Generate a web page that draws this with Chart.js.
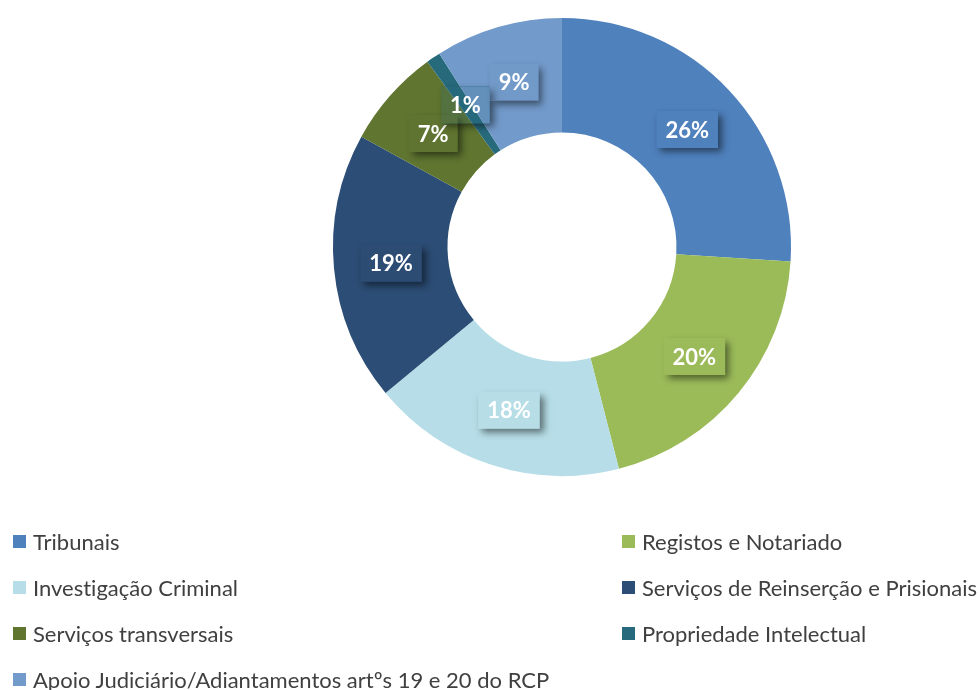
<!DOCTYPE html>
<html lang="pt">
<head>
<meta charset="utf-8">
<title>Distribuição da despesa</title>
<script src="https://cdn.jsdelivr.net/npm/chart.js@4.4.1/dist/chart.umd.min.js"></script>
<style>
  html, body { margin: 0; padding: 0; background: #fff; }
  body { width: 980px; height: 690px; position: relative; overflow: hidden; font-family: Lato, 'Open Sans', sans-serif; }
  #chart-wrap { position: absolute; left: 303px; top: 0; width: 518px; height: 494px; }
  #legend { position: absolute; left: 0; top: 0; width: 980px; height: 690px; pointer-events: none; }
  .item { position: absolute; display: flex; align-items: center; font-size: 22px; color: #404040; white-space: nowrap; font-variant-ligatures: none; }
  .item .sw { width: 13px; height: 13px; margin-right: 7px; flex-shrink: 0; }
</style>
</head>
<body>
<div id="chart-wrap"><canvas id="donut"></canvas></div>
<div id="legend"></div>
<script>
// Categories and their share (%)
const categories = [
  'Tribunais',
  'Registos e Notariado',
  'Investigação Criminal',
  'Serviços de Reinserção e Prisionais',
  'Serviços transversais',
  'Propriedade Intelectual',
  'Apoio Judiciário/Adiantamentos artºs 19 e 20 do RCP'
];
const shares = [26, 20, 18, 19, 7, 1, 9];
const sliceColors = ['#4f81bd', '#9bbb59', '#b7dee8', '#2c4d75', '#5f7530', '#276a7c', '#729aca'];

// Legend positions: two columns, four rows
const legendCols = [13, 622];
const legendRows = [542, 588, 634, 680];

// Boxed percentage labels with a drop shadow, at the middle of each slice
const boxLabels = {
  id: 'boxLabels',
  afterDatasetsDraw(chart) {
    const ctx = chart.ctx;
    const meta = chart.getDatasetMeta(0);
    const values = chart.data.datasets[0].data;
    ctx.save();
    ctx.font = 'bold 22px Lato, "Open Sans", sans-serif';
    ctx.textAlign = 'center';
    ctx.textBaseline = 'middle';
    meta.data.forEach((arc, i) => {
      const p = arc.tooltipPosition();
      const text = values[i] + '%';
      const w = ctx.measureText(text).width + 18;
      const h = 37;
      const x = p.x - w / 2, y = p.y - h / 2;

      // shadow only outside the box
      ctx.save();
      ctx.beginPath();
      ctx.rect(0, 0, chart.width, chart.height);
      ctx.rect(x, y, w, h);
      ctx.clip('evenodd');
      ctx.shadowColor = 'rgba(0,0,0,0.5)';
      ctx.shadowBlur = 7;
      ctx.shadowOffsetX = 4;
      ctx.shadowOffsetY = 4;
      ctx.fillStyle = sliceColors[i];
      ctx.fillRect(x, y, w, h);
      ctx.restore();

      ctx.globalAlpha = 0.2;
      ctx.fillStyle = sliceColors[i];
      ctx.fillRect(x, y, w, h);
      ctx.globalAlpha = 1;

      ctx.fillStyle = '#ffffff';
      ctx.fillText(text, p.x, p.y + 1);
    });
    ctx.restore();
  }
};

new Chart(document.getElementById('donut'), {
  type: 'doughnut',
  data: {
    labels: categories,
    datasets: [{
      data: shares,
      backgroundColor: sliceColors,
      borderWidth: 0
    }]
  },
  options: {
    responsive: true,
    maintainAspectRatio: false,
    animation: false,
    cutout: '50%',
    layout: { padding: { left: 30, right: 30, top: 18, bottom: 18 } },
    plugins: {
      legend: { display: false },
      tooltip: { enabled: false }
    }
  },
  plugins: [boxLabels]
});

// HTML legend built from the same arrays
const legend = document.getElementById('legend');
categories.forEach((name, i) => {
  const item = document.createElement('div');
  item.className = 'item';
  item.style.left = legendCols[i % 2] + 'px';
  item.style.top = (legendRows[Math.floor(i / 2)] - 15) + 'px';
  item.style.height = '28px';
  item.innerHTML = `<span class="sw" style="background:${sliceColors[i]}"></span><span>${name}</span>`;
  legend.appendChild(item);
});
</script>
</body>
</html>
